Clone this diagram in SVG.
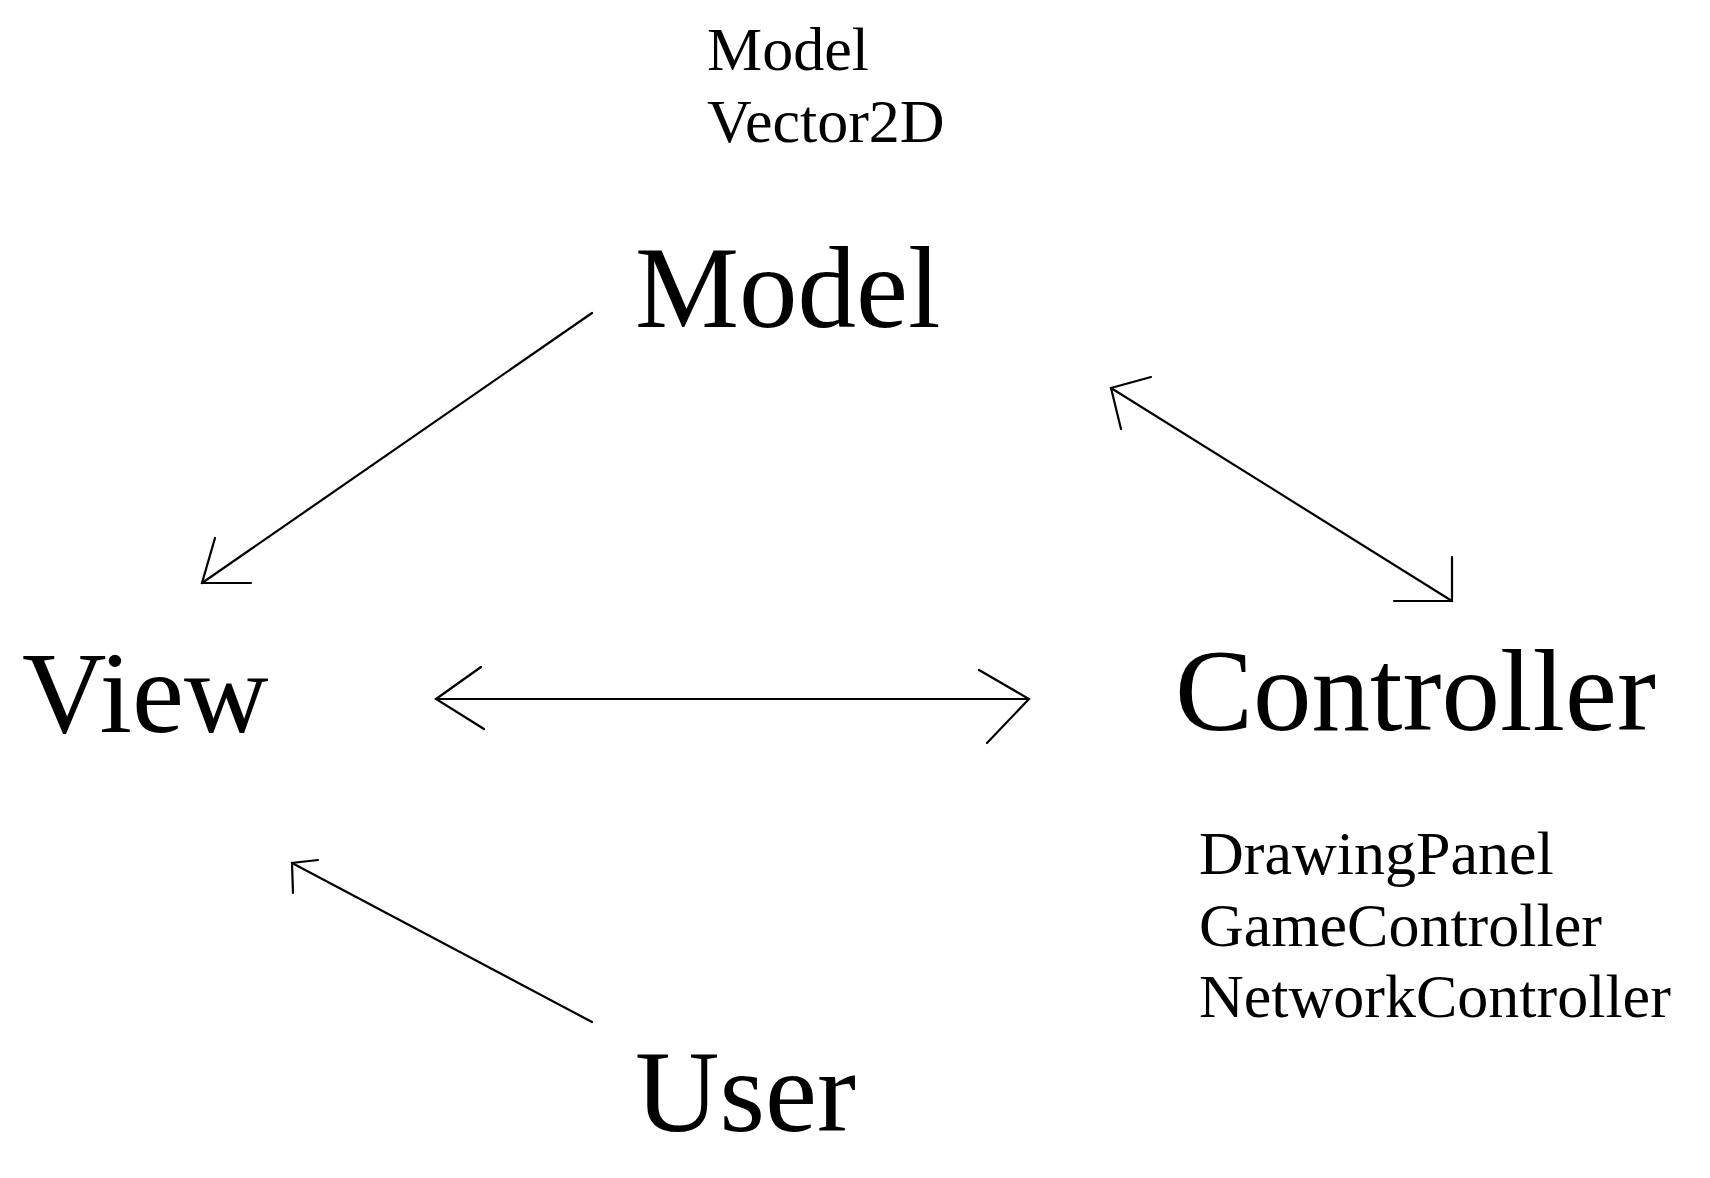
<svg xmlns="http://www.w3.org/2000/svg" width="1710" height="1178" viewBox="0 0 1710 1178">
<style>
text{font-family:"Liberation Serif","Times New Roman",serif;fill:#000}
.big{font-size:117px}
.small{font-size:62px}
.c line,.c polyline{stroke:#000;stroke-width:2.2;fill:none;stroke-linecap:round}
</style>
<rect width="1710" height="1178" fill="#fff"/>
<g id="model-classes"><text class="small" x="707" y="70">Model</text><text class="small" x="707" y="142">Vector2D</text></g>
<g id="model"><text class="big" x="635" y="327">Model</text></g>
<g id="view"><text class="big" x="22" y="732">View</text></g>
<g id="controller"><text class="big" x="1175" y="730">Controller</text></g>
<g id="controller-classes"><text class="small" x="1199" y="874">DrawingPanel</text><text class="small" x="1199" y="946">GameController</text><text class="small" x="1199" y="1017">NetworkController</text></g>
<g id="user"><text class="big" x="635" y="1131">User</text></g>
<g class="c" id="connectors">
<line x1="592" y1="313" x2="202" y2="583"/><polyline points="215,538 202,583 251,583"/>
<line x1="1111" y1="388" x2="1452" y2="601"/><polyline points="1151,377 1111,388 1121,429"/><polyline points="1452,557 1452,601 1394,601"/>
<line x1="436" y1="699" x2="1029" y2="699"/><polyline points="481,667 436,699 484,729"/><polyline points="979,670 1029,699 987,743"/>
<line x1="592" y1="1022" x2="292" y2="863"/><polyline points="318,860 292,863 293,893"/>
</g>
</svg>
